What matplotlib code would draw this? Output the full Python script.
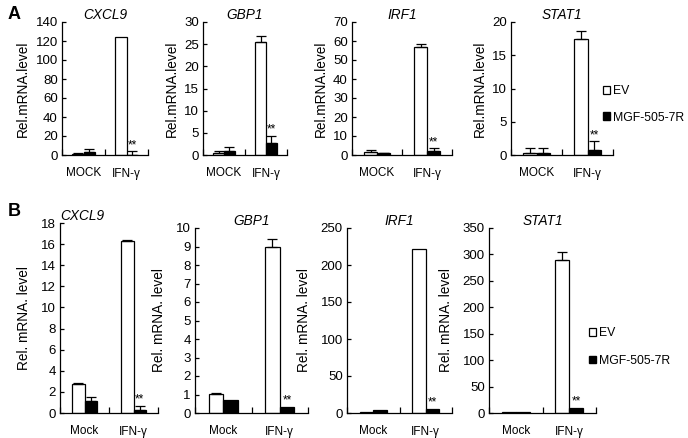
import numpy as np
import matplotlib.pyplot as plt
from matplotlib.patches import Patch

plt.rcParams['font.family'] = ['Liberation Sans', 'DejaVu Sans']

# Panel A data (MOCK, IFN-γ)
genes = ["CXCL9", "GBP1", "IRF1", "STAT1"]
a_ev = [[1.0, 124.0], [0.4, 25.4], [1.4, 56.8], [0.3, 17.5]]
a_ev_err = [[0.6, 0.0], [0.6, 1.4], [1.1, 1.8], [0.8, 1.1]]
a_mgf = [[3.0, 0.0], [1.0, 2.8], [0.9, 2.3], [0.3, 0.8]]
a_mgf_err = [[3.0, 4.0], [0.7, 1.5], [0.2, 1.2], [0.8, 1.3]]
a_ymax = [140, 30, 70, 20]
a_ystep = [20, 5, 10, 5]
a_cats = ["MOCK", "IFN-γ"]

# Panel B data (Mock, IFN-γ)
b_ev = [[2.75, 16.3], [1.05, 8.95], [1.0, 221.0], [1.0, 290.0]]
b_ev_err = [[0.1, 0.1], [0.05, 0.45], [0.0, 0.0], [0.0, 15.0]]
b_mgf = [[1.1, 0.3], [0.7, 0.35], [4.0, 6.0], [1.0, 10.0]]
b_mgf_err = [[0.45, 0.4], [0.0, 0.0], [0.0, 0.0], [0.0, 0.0]]
b_ymax = [18, 10, 250, 350]
b_ystep = [2, 1, 50, 50]
b_cats = ["Mock", "IFN-γ"]

W, H = 688, 438
fig = plt.figure(figsize=(W / 100, H / 100), dpi=100)

def px_axes(left, top, right, bottom):
    return fig.add_axes([left / W, 1 - bottom / H, (right - left) / W, (bottom - top) / H])

def draw(ax, ev, ev_err, mgf, mgf_err, ymax, ystep, cats, ylabel, title, lpad):
    x = np.array([0.5, 1.5])
    bw = 0.26
    ax.bar(x - bw / 2, ev, bw, color="white", edgecolor="black", linewidth=0.9, zorder=2)
    ax.bar(x + bw / 2, mgf, bw, color="black", edgecolor="black", linewidth=0.9, zorder=2)
    for xs, v, e in [(x - bw / 2, ev, ev_err), (x + bw / 2, mgf, mgf_err)]:
        for xi, vi, ei in zip(xs, v, e):
            if ei > 0:
                ax.errorbar(xi, vi, yerr=[[0], [ei]], fmt="none", ecolor="black",
                            elinewidth=0.9, capsize=3.5, capthick=0.9, zorder=3)
    # significance mark
    ax.annotate("**", (x[1] + bw / 2, mgf[1] + mgf_err[1]), xytext=(0, 0),
                textcoords="offset points", ha="center", va="bottom", fontsize=8.5)
    ax.set_xlim(0, 2)
    ax.set_ylim(0, ymax)
    ax.set_yticks(np.arange(0, ymax + ystep / 2, ystep))
    ax.set_xticks([0, 1, 2])
    ax.set_xticklabels([])
    ax.set_xticks(x, minor=True)
    ax.set_xticklabels(cats, minor=True, fontsize=8.5)
    ax.tick_params(axis="x", which="major", direction="in", length=4, width=0.9)
    ax.tick_params(axis="x", which="minor", length=0, pad=9)
    ax.tick_params(axis="y", direction="in", length=3, width=0.9, labelsize=9.5, pad=3)
    for s in ["top", "right"]:
        ax.spines[s].set_visible(False)
    for s in ["left", "bottom"]:
        ax.spines[s].set_linewidth(0.9)
    ax.set_ylabel(ylabel, fontsize=9.8, labelpad=lpad)
    ax.set_title(title, fontsize=9.8, style="italic", pad=-1)

# panel A
a_boxes = [(62, 22, 148, 155), (203, 22, 287, 155), (352, 22, 452, 155), (511, 22, 613, 155)]
for i, g in enumerate(genes):
    ax = px_axes(*a_boxes[i])
    draw(ax, a_ev[i], a_ev_err[i], a_mgf[i], a_mgf_err[i], a_ymax[i], a_ystep[i],
         a_cats, "Rel.mRNA.level", g, 4)

# panel B
b_boxes = [(60, 223, 158, 413), (195, 228, 308, 413), (347, 228, 452, 413), (489, 228, 596, 413)]
for i, g in enumerate(genes):
    ax = px_axes(*b_boxes[i])
    draw(ax, b_ev[i], b_ev_err[i], b_mgf[i], b_mgf_err[i], b_ymax[i], b_ystep[i],
         b_cats, "Rel. mRNA. level", g, 7)
    ax.set_title(g, fontsize=9.8, style="italic", pad=0, x=0.23 if i == 0 else 0.5)

fig.text(8 / W, 1 - 6 / H, "A", fontsize=13, fontweight="bold", va="top", ha="left")
fig.text(8 / W, 1 - 203 / H, "B", fontsize=13, fontweight="bold", va="top", ha="left")

handles = [Patch(facecolor="white", edgecolor="black", linewidth=0.9, label="EV"),
           Patch(facecolor="black", edgecolor="black", label="MGF-505-7R")]
for (lx, ly, ls) in [(603, 85, 1.2), (589, 327, 1.3)]:
    fig.legend(handles=handles, loc="upper left", bbox_to_anchor=(lx / W, 1 - ly / H),
               frameon=False, fontsize=8.8, handlelength=0.6, handleheight=0.6,
               handletextpad=0.2, labelspacing=ls, borderpad=0, borderaxespad=0)

fig.savefig("out.png", dpi=100)
